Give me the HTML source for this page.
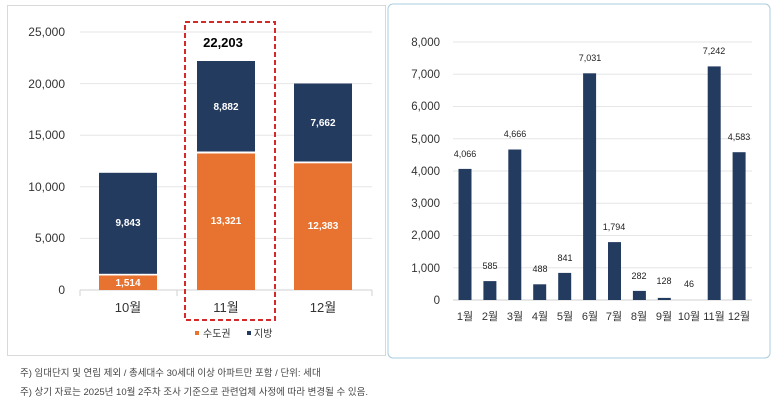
<!DOCTYPE html>
<html><head><meta charset="utf-8"><style>
html,body{margin:0;padding:0;background:#fff;}
svg{display:block;font-family:"Liberation Sans","Noto Sans CJK KR",sans-serif;}
</style></head><body>
<svg width="778" height="410" viewBox="0 0 778 410" xmlns="http://www.w3.org/2000/svg">
<rect x="7.5" y="5.5" width="378" height="350" fill="#fff" stroke="#d9d9d9"/>
<g stroke="#e6e6e6" stroke-width="1">
<line x1="80" x2="372" y1="32" y2="32"/><line x1="80" x2="372" y1="83.6" y2="83.6"/>
<line x1="80" x2="372" y1="135.2" y2="135.2"/><line x1="80" x2="372" y1="186.8" y2="186.8"/>
<line x1="80" x2="372" y1="238.4" y2="238.4"/>
</g>
<line x1="80" x2="372" y1="290" y2="290" stroke="#d0d0d0"/>
<g stroke="#d0d0d0"><line x1="80" x2="80" y1="290" y2="296"/><line x1="177" x2="177" y1="290" y2="296"/><line x1="275" x2="275" y1="290" y2="296"/><line x1="372" x2="372" y1="290" y2="296"/></g>
<g font-size="12" fill="#333" text-anchor="end">
<text x="65" y="36">25,000</text><text x="65" y="88">20,000</text><text x="65" y="139">15,000</text>
<text x="65" y="191">10,000</text><text x="65" y="242">5,000</text><text x="65" y="294">0</text>
</g>
<rect x="99" y="172.8" width="58" height="101" fill="#243b60"/>
<rect x="99" y="275.5" width="58" height="14.5" fill="#e8722f"/>
<rect x="197" y="61" width="58" height="90.5" fill="#243b60"/>
<rect x="197" y="153.5" width="58" height="136.5" fill="#e8722f"/>
<rect x="294" y="83.5" width="58" height="78" fill="#243b60"/>
<rect x="294" y="163.3" width="58" height="126.7" fill="#e8722f"/>
<g font-size="10" fill="#fff" text-anchor="middle" font-weight="bold">
<text x="128" y="226">9,843</text><text x="128" y="286">1,514</text>
<text x="226" y="110">8,882</text><text x="226" y="224">13,321</text>
<text x="323" y="126">7,662</text><text x="323" y="229">12,383</text>
</g>
<text x="223" y="47" font-size="13" font-weight="bold" text-anchor="middle" fill="#000">22,203</text>
<rect x="185" y="22" width="90" height="298" fill="none" stroke="#d42a2a" stroke-width="2" stroke-dasharray="5,3"/>
<g font-size="13" fill="#333" text-anchor="middle">
<text x="128" y="312">10월</text><text x="226" y="312">11월</text><text x="323" y="312">12월</text>
</g>
<rect x="195" y="331" width="4" height="4" fill="#e8722f"/>
<text x="203" y="337" font-size="10" fill="#333">수도권</text>
<rect x="247" y="331" width="4" height="4" fill="#243b60"/>
<text x="254" y="337" font-size="10" fill="#333">지방</text>
<g font-size="9.5" fill="#444">
<text x="20" y="376">주) 임대단지 및 연립 제외 / 총세대수 30세대 이상 아파트만 포함 / 단위: 세대</text>
<text x="20" y="395">주) 상기 자료는 2025년 10월 2주차 조사 기준으로 관련업체 사정에 따라 변경될 수 있음.</text>
</g>
<rect x="388" y="4" width="382" height="354" rx="5" fill="#fff" stroke="#a9cde0"/>
<g stroke="#e6e6e6">
<line x1="453" x2="752" y1="42" y2="42"/><line x1="453" x2="752" y1="74.3" y2="74.3"/>
<line x1="453" x2="752" y1="106.5" y2="106.5"/><line x1="453" x2="752" y1="138.8" y2="138.8"/>
<line x1="453" x2="752" y1="171" y2="171"/><line x1="453" x2="752" y1="203.3" y2="203.3"/>
<line x1="453" x2="752" y1="235.5" y2="235.5"/><line x1="453" x2="752" y1="267.8" y2="267.8"/>
</g>
<line x1="453" x2="752" y1="300" y2="300" stroke="#d0d0d0"/>
<g font-size="11.5" fill="#333" text-anchor="end">
<text x="440" y="46">8,000</text><text x="440" y="78">7,000</text><text x="440" y="110">6,000</text>
<text x="440" y="143">5,000</text><text x="440" y="175">4,000</text><text x="440" y="207">3,000</text>
<text x="440" y="239">2,000</text><text x="440" y="272">1,000</text><text x="440" y="304">0</text>
</g>
<g fill="#243b60">
<rect x="458.5" y="168.9" width="13" height="131.1"/>
<rect x="483.4" y="281.1" width="13" height="18.9"/>
<rect x="508.3" y="149.5" width="13" height="150.5"/>
<rect x="533.2" y="284.3" width="13" height="15.7"/>
<rect x="558.2" y="272.9" width="13" height="27.1"/>
<rect x="583.1" y="73.3" width="13" height="226.7"/>
<rect x="608" y="242.1" width="13" height="57.9"/>
<rect x="632.9" y="290.9" width="13" height="9.1"/>
<rect x="657.8" y="297.9" width="13" height="2.1"/>
<rect x="707.7" y="66.4" width="13" height="233.6"/>
<rect x="732.6" y="152.2" width="13" height="147.8"/>
</g>
<g font-size="9" fill="#222" text-anchor="middle">
<text x="465" y="157">4,066</text><text x="490" y="269">585</text><text x="515" y="137">4,666</text>
<text x="540" y="272">488</text><text x="565" y="261">841</text><text x="590" y="61">7,031</text>
<text x="614" y="230">1,794</text><text x="639" y="279">282</text><text x="664" y="284">128</text>
<text x="689" y="287">46</text><text x="714" y="54">7,242</text><text x="739" y="140">4,583</text>
</g>
<g font-size="11" fill="#333" text-anchor="middle">
<text x="465" y="320">1월</text><text x="490" y="320">2월</text><text x="515" y="320">3월</text>
<text x="540" y="320">4월</text><text x="565" y="320">5월</text><text x="590" y="320">6월</text>
<text x="614" y="320">7월</text><text x="639" y="320">8월</text><text x="664" y="320">9월</text>
<text x="689" y="320">10월</text><text x="714" y="320">11월</text><text x="739" y="320">12월</text>
</g>
</svg>
</body></html>
